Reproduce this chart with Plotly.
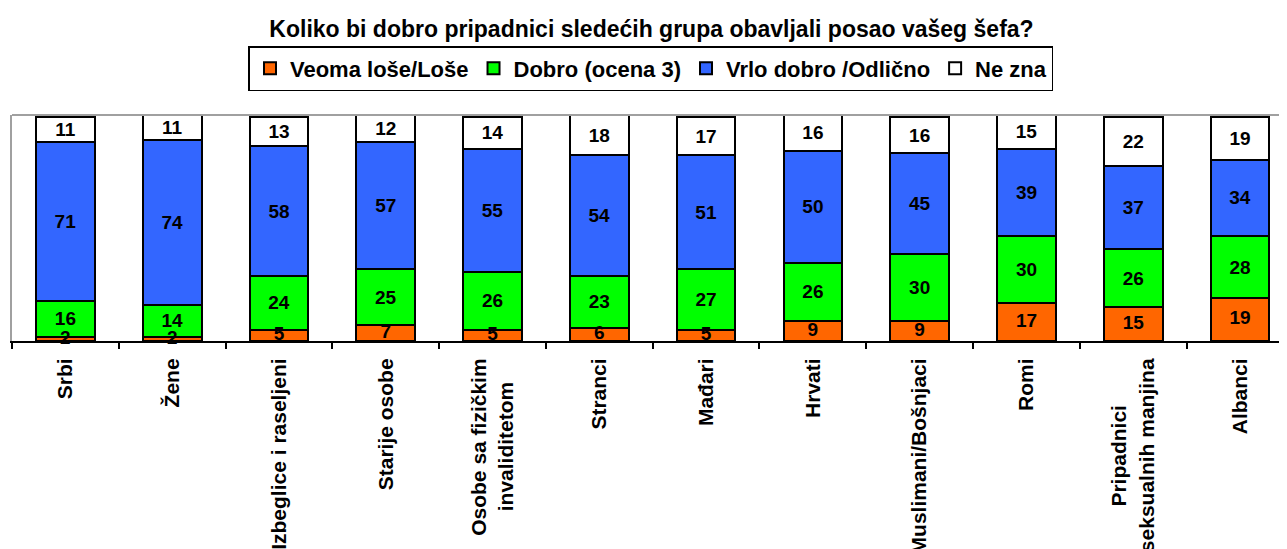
import plotly.graph_objects as go

# Categories and shares (%)
NB = '\u00a0'
categories = ['Srbi', 'Žene', 'Izbeglice i raseljeni', 'Starije osobe',
              'Osobe sa fizičkim<br>invaliditetom' + NB * 4, 'Stranci', 'Mađari', 'Hrvati',
              'Muslimani/Bošnjaci', 'Romi', 'Pripadnici' + NB * 8 + '<br>seksualnih manjina', 'Albanci']
losa = [2, 2, 5, 7, 5, 6, 5, 9, 9, 17, 15, 19]
dobro = [16, 14, 24, 25, 26, 23, 27, 26, 30, 30, 26, 28]
odlicno = [71, 74, 58, 57, 55, 54, 51, 50, 45, 39, 37, 34]
ne_zna = [11, 11, 13, 12, 14, 18, 17, 16, 16, 15, 22, 19]

series = [
    ('Veoma loše/Loše', losa, '#FF6600'),
    ('Dobro (ocena 3)', dobro, '#00FF00'),
    ('Vrlo dobro /Odlično', odlicno, '#3366FF'),
    ('Ne zna', ne_zna, '#FFFFFF'),
]
label_font = dict(family='Arial, Liberation Sans', size=19, color='black', weight='bold')

fig = go.Figure()
for i, (name, vals, color) in enumerate(series):
    fig.add_trace(go.Bar(
        x=categories, y=vals, name=name,
        marker=dict(color=color, line=dict(color='black', width=2)),
        text=vals, textposition='none' if i == 0 else 'inside',
        insidetextanchor='middle', textangle=0, constraintext='none',
        textfont=label_font, width=0.55,
    ))

# bottom segment labels drawn on top so the small ones stay readable
fig.add_trace(go.Scatter(
    x=categories, y=[v / 2 for v in losa], mode='text', text=losa,
    textposition='middle center', textfont=label_font,
    showlegend=False, hoverinfo='skip', cliponaxis=False,
))

# the page body adds an 8px offset, so margins are shifted by that amount
fig.update_layout(
    barmode='stack',
    width=1287, height=549,
    margin=dict(l=4, r=8, t=107, b=216, autoexpand=False),
    plot_bgcolor='white', paper_bgcolor='white',
    font=dict(family='Arial, Liberation Sans', color='black'),
    uniformtext=dict(minsize=19, mode='show'),
    title=dict(text='<b>Koliko bi dobro pripadnici sledećih grupa obavljali posao vašeg šefa?</b>',
               x=0.5, xanchor='center', y=0.962, yanchor='middle',
               font=dict(size=23, color='black')),
    legend=dict(orientation='h', xref='container', yref='container',
                x=0.4996, xanchor='center', y=1 - 38 / 549, yanchor='top',
                bordercolor='black', borderwidth=1.5,
                font=dict(size=22, weight='bold', color='black'),
                itemwidth=30, traceorder='normal'),
)
fig.update_xaxes(
    range=[-0.5, 11.44], tickangle=-90, tickson='boundaries',
    ticks='outside', ticklen=6, tickwidth=2, tickcolor='black',
    showline=True, linecolor='black', linewidth=2,
    tickfont=dict(size=21, weight='bold', color='black'),
    automargin=False, ticklabelstandoff=7,
)
fig.update_yaxes(range=[0, 101], showticklabels=False, showgrid=False, automargin=False,
                 zeroline=False, showline=True, linecolor='#A0A0A0', linewidth=2)
fig.add_shape(type='line', xref='paper', yref='paper', x0=0, x1=1, y0=1, y1=1,
              line=dict(color='#A0A0A0', width=2))

fig.write_html('out.html')
